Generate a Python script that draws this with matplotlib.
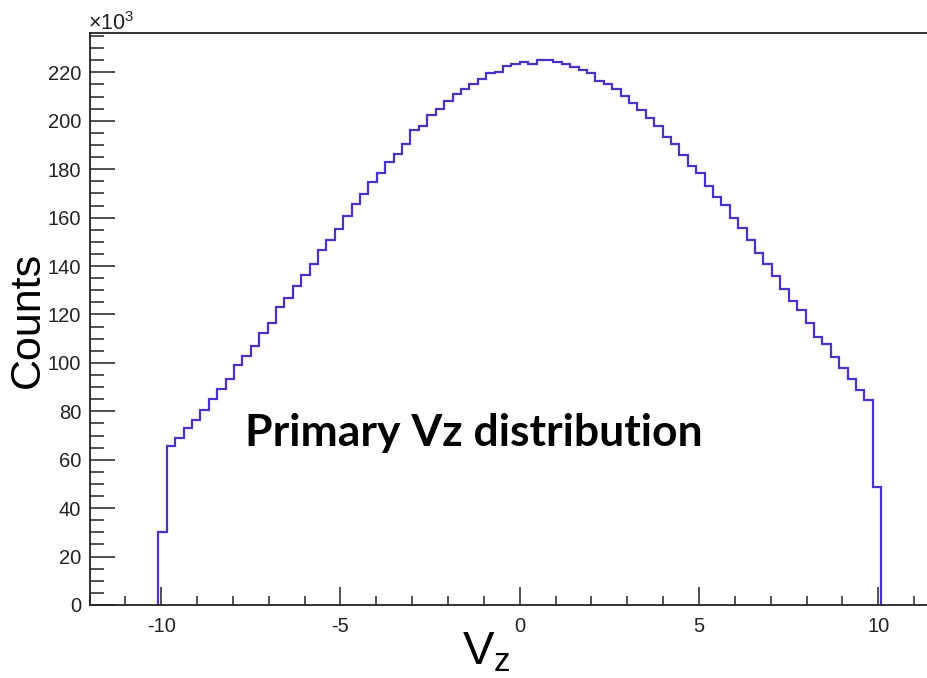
import numpy as np
import matplotlib
matplotlib.use("Agg")
import matplotlib.pyplot as plt
from matplotlib.ticker import MultipleLocator, FuncFormatter

plt.rcParams['axes.unicode_minus'] = False
plt.rcParams['mathtext.default'] = 'regular'

# ---- data ----
vz_lo, vz_hi = -10.08, 10.08          # histogram range of filled bins
counts_k = [30.0, 65.6, 68.8, 72.9, 76.6, 80.5, 84.9, 89.4, 93.3, 99.1,
            102.9, 106.9, 112.4, 116.5, 122.9, 126.6, 131.8, 136.2, 140.8, 146.5,
            150.9, 155.1, 160.7, 165.8, 169.6, 174.7, 178.6, 183.0, 186.4, 190.2,
            196.1, 197.8, 202.3, 205.0, 208.2, 210.9, 213.3, 215.3, 217.1, 219.7,
            220.3, 222.5, 223.6, 224.1, 223.6, 225.0, 225.0, 224.1, 223.6, 222.2,
            220.8, 219.7, 216.4, 215.3, 213.3, 210.1, 207.3, 204.3, 201.1, 197.7,
            193.3, 190.2, 185.7, 181.2, 178.6, 173.0, 168.5, 165.4, 160.0, 155.7,
            150.7, 145.4, 140.8, 135.8, 130.7, 125.5, 121.8, 116.5, 110.7, 107.6,
            102.6, 98.0, 93.4, 89.0, 84.5, 48.6]
counts = np.array(counts_k) * 1000.0
x_ticks = [-10, -5, 0, 5, 10]
title_text = "Primary Vz distribution"

edges = np.linspace(vz_lo, vz_hi, len(counts) + 1)

W, H = 927, 678
fig = plt.figure(figsize=(W / 100, H / 100), dpi=100)
left_px, right_px, top_px, bottom_px = 89.5, 950.0, 33.0, 605.0
ax = fig.add_axes([left_px / W, 1 - bottom_px / H,
                   (right_px - left_px) / W, (bottom_px - top_px) / H])

ax.stairs(counts, edges, color='#4634c4', lw=1.6)

ax.set_xlim(-12, 12)
ax.set_ylim(0, max(counts) * 1.05)

ax.set_xticks(x_ticks)
ax.xaxis.set_minor_locator(MultipleLocator(1))
ax.yaxis.set_major_locator(MultipleLocator(20000))
ax.yaxis.set_minor_locator(MultipleLocator(5000))
ax.yaxis.set_major_formatter(FuncFormatter(lambda v, p: f"{v/1000:.0f}"))

for s in ax.spines.values():
    s.set_linewidth(1.3)
    s.set_color('#222222')

ax.tick_params(axis='y', which='major', direction='in', length=18, width=1.1,
               labelsize=14.5, pad=6, colors='#222222')
ax.tick_params(axis='y', which='minor', direction='in', length=10, width=1.1, colors='#222222')
ax.tick_params(axis='x', which='major', direction='in', length=13, width=1.1,
               labelsize=14.5, pad=9, colors='#222222')
ax.tick_params(axis='x', which='minor', direction='in', length=6.5, width=1.1, colors='#222222')
ax.tick_params(top=False, right=False, which='both')

for lab in ax.get_xticklabels() + ax.get_yticklabels():
    lab.set_family('Liberation Sans')

ax.set_ylabel('Counts', fontsize=31, family='Liberation Sans', va='center')
ax.yaxis.set_label_coords((28 - left_px) / (right_px - left_px),
                          (605 - 320) / (bottom_px - top_px))
ax.set_xlabel('V$_{z}$', fontsize=34, family='Liberation Sans', labelpad=0)
ax.xaxis.set_label_coords((486 - left_px) / (right_px - left_px), -0.045)
ax.xaxis.label.set_va('top')

fig.text(88 / W, 1 - 30 / H, '×10$^{3}$', fontsize=15.5, family='Liberation Sans',
         color='#222222', ha='left', va='baseline')

fig.text(245 / W, 1 - 446 / H, title_text, fontsize=32, family='Lato',
         fontweight='bold', ha='left', va='baseline', color='black')

fig.savefig('out.png', dpi=100)
